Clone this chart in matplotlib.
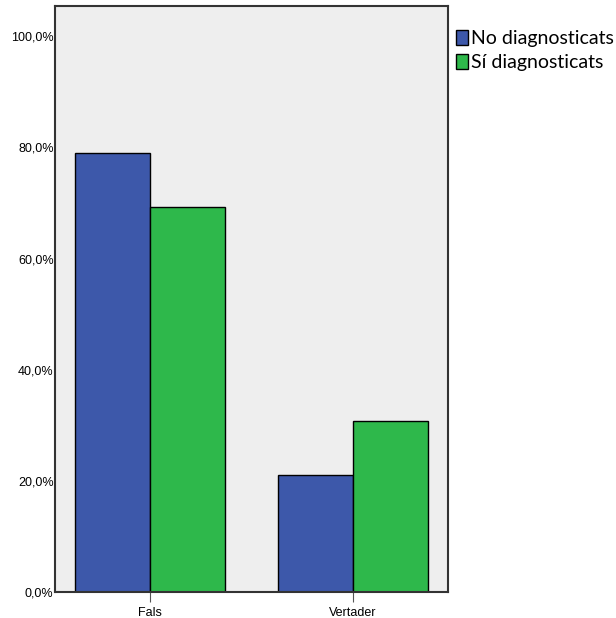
import matplotlib.pyplot as plt
import numpy as np

categories = ['Fals', 'Vertader']
no_diag = [78.9, 21.1]
si_diag = [69.3, 30.7]
series_labels = ['No diagnosticats', 'Sí diagnosticats']
yticks = [0, 20, 40, 60, 80, 100]
ytick_labels = ['0,0%', '20,0%', '40,0%', '60,0%', '80,0%', '100,0%']

plt.rcParams['font.family'] = ['Liberation Sans', 'DejaVu Sans']

fig = plt.figure(figsize=(6.16, 6.18), dpi=100)
ax = fig.add_axes([0.0893, 0.042, 0.638, 0.948])
ax.set_facecolor('#eeeeee')

x = np.arange(len(categories))
w = 0.37
ax.bar(x - w / 2, no_diag, w, color='#3d58aa', edgecolor='black', linewidth=1, label=series_labels[0])
ax.bar(x + w / 2, si_diag, w, color='#2eb84b', edgecolor='black', linewidth=1, label=series_labels[1])

ax.set_xlim(-0.468, 1.468)
ax.set_ylim(0, 105.4)
ax.set_xticks(x)
ax.set_xticklabels(categories, fontsize=9)
ax.set_yticks(yticks)
ax.set_yticklabels(ytick_labels, fontsize=9)
ax.tick_params(axis='x', length=7, color='#555555', pad=4)
ax.tick_params(axis='y', length=0, pad=1)

for s in ax.spines.values():
    s.set_color('#333333')
    s.set_linewidth(1.5)

fig.legend(loc='upper left', bbox_to_anchor=(0.740, 0.952), frameon=False,
           prop={'family': 'Lato', 'size': 14}, handlelength=0.62, handleheight=0.8,
           handletextpad=0.15, labelspacing=0.36, borderaxespad=0, borderpad=0)

fig.savefig('out.png', dpi=100)
